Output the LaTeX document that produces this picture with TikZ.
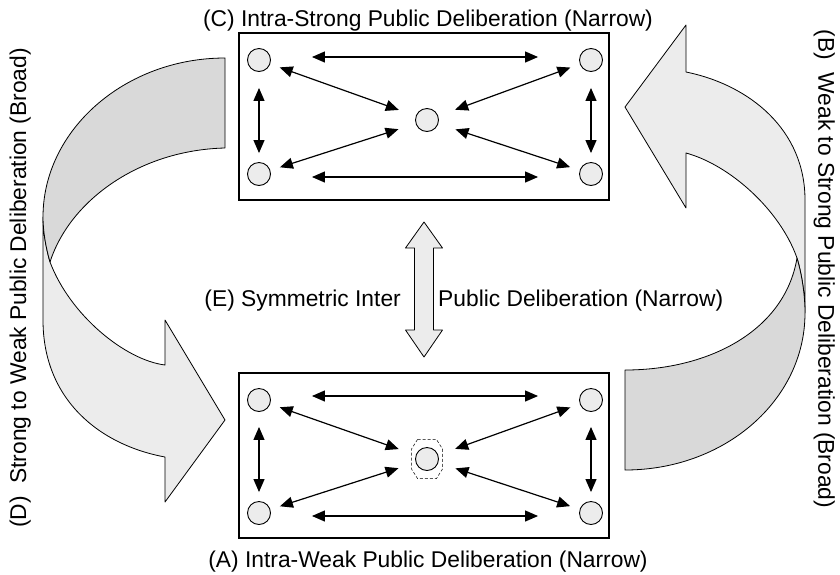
\documentclass[tikz,border=0pt]{standalone}
\usepackage{fontspec}
\setmainfont{Liberation Sans}
\usetikzlibrary{arrows.meta}

\begin{document}
\begin{tikzpicture}[x=1pt,y=-1pt,
every node/.style = {font=\fontsize{22.8}{26}\selectfont},
box/.style   = {draw, line width=1.3pt, minimum width=370pt, inner sep=0pt},
actor/.style = {circle, draw, line width=0.9pt, fill=gray!15,
                minimum size=23pt, inner sep=0pt},
link/.style  = {<->, >={Triangle[length=13pt,width=11pt]},
                line width=1.2pt, black},
band/.style  = {draw, line width=0.8pt, line join=round},
caption/.style = {inner sep=0pt}
]
\useasboundingbox (0,0) rectangle (840,574);
%
% the two arenas
\node[box, minimum height=167pt] (strong) at (424,116.5) {};
\node[box, minimum height=165pt] (weak) at (424,455.5) {};
%
\node[actor] (sNW) at (259,60) {};
\node[actor] (sNE) at (591,60) {};
\node[actor] (sSW) at (259,174) {};
\node[actor] (sSE) at (591,174) {};
\node[actor] (sC) at (427,120) {};
%
\node[actor] (wNW) at (259,400) {};
\node[actor] (wNE) at (591,400) {};
\node[actor] (wSW) at (259,513) {};
\node[actor] (wSE) at (591,513) {};
\node[actor] (wC) at (427,459) {};
\draw[dashed, line width=0.5pt, dash pattern=on 3pt off 2pt, shift={(427,459)}]
  (-9.5,-19.5) -- (9.5,-19.5) -- (15.5,-10) -- (15.5,10) -- (9.5,19.5)
  -- (-9.5,19.5) -- (-15.5,10) -- (-15.5,-10) -- cycle;
%
\draw[link, shorten <=41pt, shorten >=41pt] ([yshift=3pt]sNW.east) -- ([yshift=3pt]sNE.west);
\draw[link, shorten <=41pt, shorten >=41pt] ([yshift=-3pt]sSW.east) -- ([yshift=-3pt]sSE.west);
\draw[link, shorten <=16pt, shorten >=9pt] (sNW) -- (sSW);
\draw[link, shorten <=16pt, shorten >=9pt] (sNE) -- (sSE);
\draw[link, shorten <=10pt, shorten >=18pt] (sNW) -- (sC);
\draw[link, shorten <=10pt, shorten >=18pt] (sSW) -- (sC);
\draw[link, shorten <=10pt, shorten >=18pt] (sNE) -- (sC);
\draw[link, shorten <=10pt, shorten >=18pt] (sSE) -- (sC);
%
\draw[link, shorten <=41pt, shorten >=41pt] ([yshift=4pt]wNW.east) -- ([yshift=4pt]wNE.west);
\draw[link, shorten <=41pt, shorten >=41pt] ([yshift=-3pt]wSW.east) -- ([yshift=-3pt]wSE.west);
\draw[link, shorten <=15pt, shorten >=9pt] (wNW) -- (wSW);
\draw[link, shorten <=15pt, shorten >=9pt] (wNE) -- (wSE);
\draw[link, shorten <=10pt, shorten >=18pt] (wNW) -- (wC);
\draw[link, shorten <=10pt, shorten >=18pt] (wSW) -- (wC);
\draw[link, shorten <=10pt, shorten >=18pt] (wNE) -- (wC);
\draw[link, shorten <=10pt, shorten >=18pt] (wSE) -- (wC);
%
% inter arena arrow (E)
\draw[band, fill=gray!15] (424,222) -- (442.5,248) -- (433.5,248) -- (433.5,330)
  -- (442.5,330) -- (424,357) -- (405.5,330) -- (414.5,330) -- (414.5,248)
  -- (405.5,248) -- cycle;
%
% strong to weak (D)
\draw[band, fill=gray!15] (43,217) -- (43,320) .. controls (43,400) and (100,445) .. (165,457)
  -- (165,502) -- (225,420) -- (165,320) -- (165,365)
  .. controls (125,360) and (70,315) .. (50,262)
  .. controls (46,248) and (43,232) .. (43,217) -- cycle;
\draw[band, fill=gray!30] (225,58) .. controls (125,58) and (43,130) .. (43,217)
  .. controls (43,232) and (46,248) .. (50,262)
  .. controls (70,200) and (140,150) .. (225,148) -- cycle;
%
% weak to strong (B)
\draw[band, fill=gray!15] (805,313) -- (805,200) .. controls (805,130) and (750,85) .. (686,72)
  -- (686,25) -- (625,107) -- (686,208) -- (686,153)
  .. controls (730,165) and (780,210) .. (797,258)
  .. controls (802,275) and (805,295) .. (805,313) -- cycle;
\draw[band, fill=gray!30] (625,470) .. controls (725,470) and (805,400) .. (805,313)
  .. controls (805,295) and (802,275) .. (797,258)
  .. controls (785,330) and (710,370) .. (625,370) -- cycle;
%
% captions
\node[caption] (capC) at (428,20.8) {(C) Intra-Strong Public Deliberation (Narrow)};
\node[caption] (capA) at (428,561.3) {(A) Intra-Weak Public Deliberation (Narrow)};
\node[caption, anchor=east] (capE1) at (401,300.8) {(E) Symmetric Inter};
\node[caption, anchor=west] (capE2) at (438,300.8) {Public Deliberation (Narrow)};
\node[caption, rotate=90] (capD) at (20.3,288) {(D)\ \ Strong to Weak Public Deliberation (Broad)};
\node[caption, rotate=-90] (capB) at (824.2,269) {(B)\ \ Weak to Strong Public Deliberation (Broad)};
%
\end{tikzpicture}
\end{document}
